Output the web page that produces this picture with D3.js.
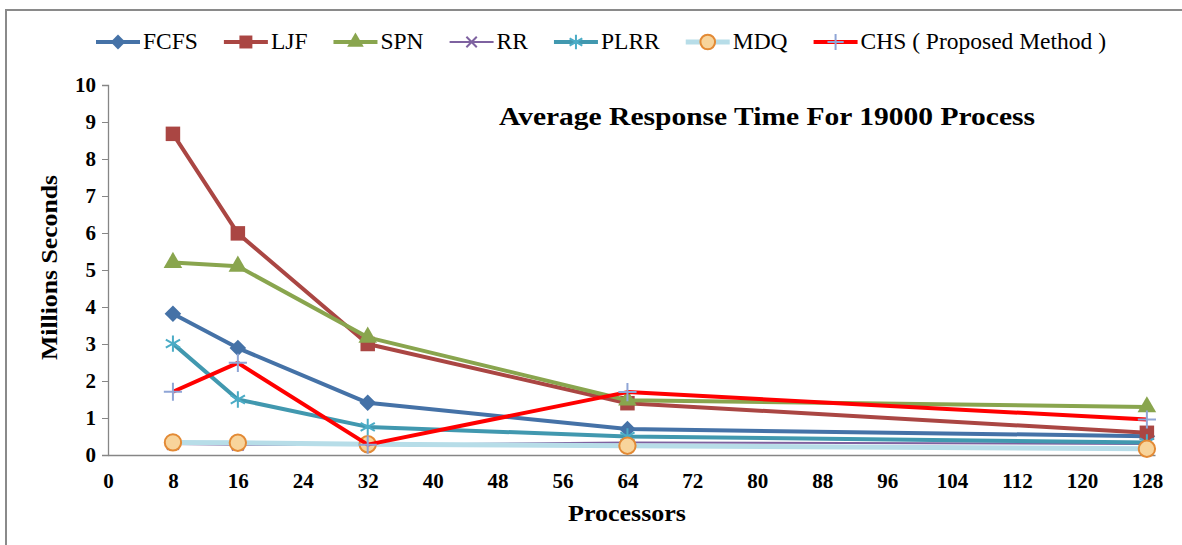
<!DOCTYPE html>
<html>
<head>
<meta charset="utf-8">
<script src="https://cdn.jsdelivr.net/npm/d3@7"></script>
<style>
  body { margin: 0; background: #fff; }
  text { font-family: "Liberation Serif", "Times New Roman", serif; }
</style>
</head>
<body>
<svg class="chart" width="1182" height="545"></svg>
<script>
// DATA
const processors = [8, 16, 32, 64, 128]
const xTicks = [0, 8, 16, 24, 32, 40, 48, 56, 64, 72, 80, 88, 96, 104, 112, 120, 128]
const yTicks = [0, 1, 2, 3, 4, 5, 6, 7, 8, 9, 10]

const fcfs = [3.82, 2.89, 1.41, 0.70, 0.51]
const ljf  = [8.68, 5.99, 3.00, 1.40, 0.60]
const spn  = [5.20, 5.10, 3.18, 1.48, 1.30]
const rr   = [0.30, 0.28, 0.27, 0.34, 0.30]
const plrr = [3.01, 1.50, 0.76, 0.50, 0.34]
const mdq  = [0.34, 0.33, 0.29, 0.25, 0.17]
const chs  = [1.71, 2.49, 0.28, 1.70, 0.96]

const seriesNames = ['FCFS', 'LJF', 'SPN', 'RR', 'PLRR', 'MDQ', 'CHS ( Proposed Method )']

const svg = d3.select('.chart')

// outer frame
svg.append('rect')
    .attr('x', 6).attr('y', 10)
    .attr('width', 1190).attr('height', 560)
    .attr('fill', 'none')
    .attr('stroke', '#8a8a8a')
    .attr('stroke-width', 2)

const xScale = d3.scaleLinear([0, 129], [108, 1155])
const yScale = d3.scaleLinear([0, 10], [455, 85])

// EJE Y
const yAxis = d3.axisLeft(yScale).tickValues(yTicks).tickSize(6).tickPadding(6)
const gy = svg.append('g')
    .attr('transform', 'translate(108,0)')
    .call(yAxis)
gy.select('.domain').attr('stroke', '#868686').attr('stroke-width', 1.3)
gy.selectAll('.tick line').attr('stroke', '#868686')
gy.selectAll('.tick text')
    .attr('font-family', 'Liberation Serif')
    .attr('font-weight', 'bold')
    .attr('font-size', '21px')
    .attr('fill', '#000')

// EJE X
const xAxis = d3.axisBottom(xScale).tickValues(xTicks).tickSize(0).tickPadding(18)
const gx = svg.append('g')
    .attr('transform', 'translate(0,455)')
    .call(xAxis)
gx.select('.domain').attr('stroke', '#868686').attr('stroke-width', 1.3)
gx.selectAll('.tick text')
    .attr('font-family', 'Liberation Serif')
    .attr('font-weight', 'bold')
    .attr('font-size', '21px')
    .attr('fill', '#000')

// LABELS
svg.append('text')
    .text('Processors')
    .attr('x', 568).attr('y', 521)
    .attr('textLength', 118)
    .attr('lengthAdjust', 'spacingAndGlyphs')
    .attr('font-weight', 'bold')
    .attr('font-size', '24px')

svg.append('text')
    .text('Millions Seconds')
    .attr('transform', 'translate(57,360) rotate(-90)')
    .attr('textLength', 185)
    .attr('lengthAdjust', 'spacingAndGlyphs')
    .attr('font-weight', 'bold')
    .attr('font-size', '24px')

svg.append('text')
    .text('Average Response Time For 19000 Process')
    .attr('x', 499).attr('y', 125)
    .attr('textLength', 536)
    .attr('lengthAdjust', 'spacingAndGlyphs')
    .attr('font-weight', 'bold')
    .attr('font-size', '26px')

// SERIES
const series = [
  {name: seriesNames[0], values: fcfs, line: '#4572A7', width: 4, symbol: d3.symbolDiamond2, size: 175, fill: '#4572A7', stroke: 'none'},
  {name: seriesNames[1], values: ljf, line: '#AA4643', width: 4, symbol: d3.symbolSquare, size: 210, fill: '#AA4643', stroke: 'none'},
  {name: seriesNames[2], values: spn, line: '#89A54E', width: 4, symbol: d3.symbolTriangle, size: 150, fill: '#89A54E', stroke: 'none'},
  {name: seriesNames[3], values: rr, line: '#7E62A0', width: 2, symbol: d3.symbolTimes, size: 90, fill: 'none', stroke: '#7E62A0'},
  {name: seriesNames[4], values: plrr, line: '#4198AF', width: 4, symbol: d3.symbolAsterisk, size: 190, fill: 'none', stroke: '#4BACC6'},
  {name: seriesNames[5], values: mdq, line: '#B7DDE8', width: 5, symbol: d3.symbolCircle, size: 210, fill: '#F8D49B', stroke: '#E38A35'},
  {name: seriesNames[6], values: chs, line: '#FF0000', width: 4, symbol: d3.symbolPlus, size: 110, fill: 'none', stroke: '#8FA5D6'}
]

const line = d3.line()
    .x((d, i) => xScale(processors[i]))
    .y(d => yScale(d))

series.forEach(function(s) {
  const g = svg.append('g')
  g.append('path')
      .attr('d', line(s.values))
      .attr('fill', 'none')
      .attr('stroke', s.line)
      .attr('stroke-width', s.width)
      .attr('stroke-linejoin', 'round')
  g.selectAll('path.mk')
      .data(s.values)
      .join('path')
      .attr('class', 'mk')
      .attr('d', d3.symbol(s.symbol, s.size))
      .attr('transform', (d, i) => `translate(${xScale(processors[i])},${yScale(d)})`)
      .attr('fill', s.fill)
      .attr('stroke', s.stroke)
      .attr('stroke-width', s.stroke === 'none' ? 0 : 2)
})

// LEYENDA
const legend = svg.append('g').attr('transform', 'translate(0,42)')
let lx = 96
series.forEach(function(s) {
  const item = legend.append('g').attr('transform', `translate(${lx},0)`)
  item.append('line')
      .attr('x1', 0).attr('x2', 44)
      .attr('y1', 0).attr('y2', 0)
      .attr('stroke', s.line)
      .attr('stroke-width', s.width)
  item.append('path')
      .attr('d', d3.symbol(s.symbol, s.size * 0.8))
      .attr('transform', 'translate(22,0)')
      .attr('fill', s.fill)
      .attr('stroke', s.stroke)
      .attr('stroke-width', s.stroke === 'none' ? 0 : 2)
  const t = item.append('text')
      .text(s.name)
      .attr('x', 47)
      .attr('y', 7)
      .attr('font-size', '23.5px')
      .attr('fill', '#000')
  lx += 47 + t.node().getComputedTextLength() + 26
})
</script>
</body>
</html>
